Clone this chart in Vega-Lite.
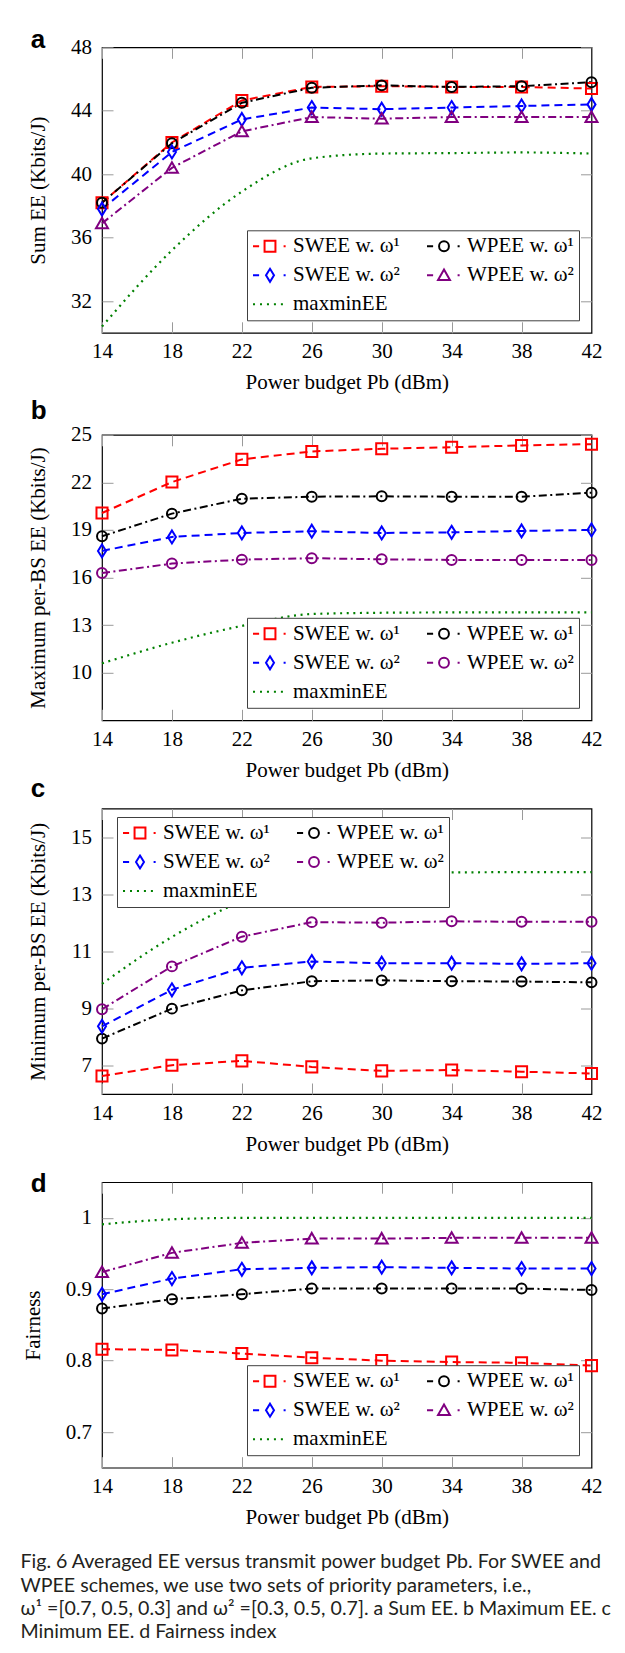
{
  "$schema": "https://vega.github.io/schema/vega-lite/v6.json",
  "autosize": {"type": "none"},
  "padding": {"left": 102, "top": 47.3, "right": 523, "bottom": 1605.7},
  "background": "white",
  "datasets": {
    "a": [
      {"power": 14, "scheme": "SWEE w. ω¹", "value": 38.2}, {"power": 18, "scheme": "SWEE w. ω¹", "value": 42.0}, {"power": 22, "scheme": "SWEE w. ω¹", "value": 44.65}, {"power": 26, "scheme": "SWEE w. ω¹", "value": 45.5}, {"power": 30, "scheme": "SWEE w. ω¹", "value": 45.55}, {"power": 34, "scheme": "SWEE w. ω¹", "value": 45.5}, {"power": 38, "scheme": "SWEE w. ω¹", "value": 45.5}, {"power": 42, "scheme": "SWEE w. ω¹", "value": 45.4},
      {"power": 14, "scheme": "WPEE w. ω¹", "value": 38.2}, {"power": 18, "scheme": "WPEE w. ω¹", "value": 41.95}, {"power": 22, "scheme": "WPEE w. ω¹", "value": 44.5}, {"power": 26, "scheme": "WPEE w. ω¹", "value": 45.45}, {"power": 30, "scheme": "WPEE w. ω¹", "value": 45.6}, {"power": 34, "scheme": "WPEE w. ω¹", "value": 45.5}, {"power": 38, "scheme": "WPEE w. ω¹", "value": 45.55}, {"power": 42, "scheme": "WPEE w. ω¹", "value": 45.8},
      {"power": 14, "scheme": "SWEE w. ω²", "value": 37.8}, {"power": 18, "scheme": "SWEE w. ω²", "value": 41.4}, {"power": 22, "scheme": "SWEE w. ω²", "value": 43.45}, {"power": 26, "scheme": "SWEE w. ω²", "value": 44.2}, {"power": 30, "scheme": "SWEE w. ω²", "value": 44.1}, {"power": 34, "scheme": "SWEE w. ω²", "value": 44.2}, {"power": 38, "scheme": "SWEE w. ω²", "value": 44.3}, {"power": 42, "scheme": "SWEE w. ω²", "value": 44.4},
      {"power": 14, "scheme": "WPEE w. ω²", "value": 36.9}, {"power": 18, "scheme": "WPEE w. ω²", "value": 40.4}, {"power": 22, "scheme": "WPEE w. ω²", "value": 42.7}, {"power": 26, "scheme": "WPEE w. ω²", "value": 43.6}, {"power": 30, "scheme": "WPEE w. ω²", "value": 43.5}, {"power": 34, "scheme": "WPEE w. ω²", "value": 43.6}, {"power": 38, "scheme": "WPEE w. ω²", "value": 43.6}, {"power": 42, "scheme": "WPEE w. ω²", "value": 43.6},
      {"power": 14, "scheme": "maxminEE", "value": 30.4}, {"power": 18, "scheme": "maxminEE", "value": 35.2}, {"power": 22, "scheme": "maxminEE", "value": 38.9}, {"power": 26, "scheme": "maxminEE", "value": 41.0}, {"power": 30, "scheme": "maxminEE", "value": 41.3}, {"power": 34, "scheme": "maxminEE", "value": 41.33}, {"power": 38, "scheme": "maxminEE", "value": 41.37}, {"power": 42, "scheme": "maxminEE", "value": 41.3}
    ],
    "b": [
      {"power": 14, "scheme": "SWEE w. ω¹", "value": 20.07}, {"power": 18, "scheme": "SWEE w. ω¹", "value": 22.02}, {"power": 22, "scheme": "SWEE w. ω¹", "value": 23.45}, {"power": 26, "scheme": "SWEE w. ω¹", "value": 23.95}, {"power": 30, "scheme": "SWEE w. ω¹", "value": 24.12}, {"power": 34, "scheme": "SWEE w. ω¹", "value": 24.22}, {"power": 38, "scheme": "SWEE w. ω¹", "value": 24.33}, {"power": 42, "scheme": "SWEE w. ω¹", "value": 24.41},
      {"power": 14, "scheme": "WPEE w. ω¹", "value": 18.6}, {"power": 18, "scheme": "WPEE w. ω¹", "value": 20.03}, {"power": 22, "scheme": "WPEE w. ω¹", "value": 20.97}, {"power": 26, "scheme": "WPEE w. ω¹", "value": 21.1}, {"power": 30, "scheme": "WPEE w. ω¹", "value": 21.12}, {"power": 34, "scheme": "WPEE w. ω¹", "value": 21.1}, {"power": 38, "scheme": "WPEE w. ω¹", "value": 21.1}, {"power": 42, "scheme": "WPEE w. ω¹", "value": 21.35},
      {"power": 14, "scheme": "SWEE w. ω²", "value": 17.68}, {"power": 18, "scheme": "SWEE w. ω²", "value": 18.56}, {"power": 22, "scheme": "SWEE w. ω²", "value": 18.81}, {"power": 26, "scheme": "SWEE w. ω²", "value": 18.92}, {"power": 30, "scheme": "SWEE w. ω²", "value": 18.81}, {"power": 34, "scheme": "SWEE w. ω²", "value": 18.85}, {"power": 38, "scheme": "SWEE w. ω²", "value": 18.94}, {"power": 42, "scheme": "SWEE w. ω²", "value": 19.0},
      {"power": 14, "scheme": "WPEE w. ω²", "value": 16.29}, {"power": 18, "scheme": "WPEE w. ω²", "value": 16.88}, {"power": 22, "scheme": "WPEE w. ω²", "value": 17.13}, {"power": 26, "scheme": "WPEE w. ω²", "value": 17.22}, {"power": 30, "scheme": "WPEE w. ω²", "value": 17.15}, {"power": 34, "scheme": "WPEE w. ω²", "value": 17.11}, {"power": 38, "scheme": "WPEE w. ω²", "value": 17.11}, {"power": 42, "scheme": "WPEE w. ω²", "value": 17.11},
      {"power": 14, "scheme": "maxminEE", "value": 10.59}, {"power": 18, "scheme": "maxminEE", "value": 11.89}, {"power": 22, "scheme": "maxminEE", "value": 12.95}, {"power": 26, "scheme": "maxminEE", "value": 13.7}, {"power": 30, "scheme": "maxminEE", "value": 13.78}, {"power": 34, "scheme": "maxminEE", "value": 13.8}, {"power": 38, "scheme": "maxminEE", "value": 13.8}, {"power": 42, "scheme": "maxminEE", "value": 13.8}
    ],
    "c": [
      {"power": 14, "scheme": "SWEE w. ω¹", "value": 6.63}, {"power": 18, "scheme": "SWEE w. ω¹", "value": 7.01}, {"power": 22, "scheme": "SWEE w. ω¹", "value": 7.16}, {"power": 26, "scheme": "SWEE w. ω¹", "value": 6.95}, {"power": 30, "scheme": "SWEE w. ω¹", "value": 6.81}, {"power": 34, "scheme": "SWEE w. ω¹", "value": 6.84}, {"power": 38, "scheme": "SWEE w. ω¹", "value": 6.78}, {"power": 42, "scheme": "SWEE w. ω¹", "value": 6.72},
      {"power": 14, "scheme": "WPEE w. ω¹", "value": 7.94}, {"power": 18, "scheme": "WPEE w. ω¹", "value": 8.99}, {"power": 22, "scheme": "WPEE w. ω¹", "value": 9.63}, {"power": 26, "scheme": "WPEE w. ω¹", "value": 9.95}, {"power": 30, "scheme": "WPEE w. ω¹", "value": 9.98}, {"power": 34, "scheme": "WPEE w. ω¹", "value": 9.95}, {"power": 38, "scheme": "WPEE w. ω¹", "value": 9.94}, {"power": 42, "scheme": "WPEE w. ω¹", "value": 9.91},
      {"power": 14, "scheme": "SWEE w. ω²", "value": 8.37}, {"power": 18, "scheme": "SWEE w. ω²", "value": 9.65}, {"power": 22, "scheme": "SWEE w. ω²", "value": 10.42}, {"power": 26, "scheme": "SWEE w. ω²", "value": 10.64}, {"power": 30, "scheme": "SWEE w. ω²", "value": 10.58}, {"power": 34, "scheme": "SWEE w. ω²", "value": 10.58}, {"power": 38, "scheme": "SWEE w. ω²", "value": 10.56}, {"power": 42, "scheme": "SWEE w. ω²", "value": 10.58},
      {"power": 14, "scheme": "WPEE w. ω²", "value": 8.97}, {"power": 18, "scheme": "WPEE w. ω²", "value": 10.47}, {"power": 22, "scheme": "WPEE w. ω²", "value": 11.51}, {"power": 26, "scheme": "WPEE w. ω²", "value": 12.02}, {"power": 30, "scheme": "WPEE w. ω²", "value": 12.0}, {"power": 34, "scheme": "WPEE w. ω²", "value": 12.05}, {"power": 38, "scheme": "WPEE w. ω²", "value": 12.03}, {"power": 42, "scheme": "WPEE w. ω²", "value": 12.03},
      {"power": 14, "scheme": "maxminEE", "value": 9.86}, {"power": 18, "scheme": "maxminEE", "value": 11.5}, {"power": 22, "scheme": "maxminEE", "value": 12.75}, {"power": 26, "scheme": "maxminEE", "value": 13.5}, {"power": 30, "scheme": "maxminEE", "value": 13.7}, {"power": 34, "scheme": "maxminEE", "value": 13.76}, {"power": 38, "scheme": "maxminEE", "value": 13.77}, {"power": 42, "scheme": "maxminEE", "value": 13.77}
    ],
    "d": [
      {"power": 14, "scheme": "SWEE w. ω¹", "value": 0.816}, {"power": 18, "scheme": "SWEE w. ω¹", "value": 0.815}, {"power": 22, "scheme": "SWEE w. ω¹", "value": 0.81}, {"power": 26, "scheme": "SWEE w. ω¹", "value": 0.804}, {"power": 30, "scheme": "SWEE w. ω¹", "value": 0.8}, {"power": 34, "scheme": "SWEE w. ω¹", "value": 0.798}, {"power": 38, "scheme": "SWEE w. ω¹", "value": 0.797}, {"power": 42, "scheme": "SWEE w. ω¹", "value": 0.793},
      {"power": 14, "scheme": "WPEE w. ω¹", "value": 0.873}, {"power": 18, "scheme": "WPEE w. ω¹", "value": 0.886}, {"power": 22, "scheme": "WPEE w. ω¹", "value": 0.893}, {"power": 26, "scheme": "WPEE w. ω¹", "value": 0.901}, {"power": 30, "scheme": "WPEE w. ω¹", "value": 0.901}, {"power": 34, "scheme": "WPEE w. ω¹", "value": 0.901}, {"power": 38, "scheme": "WPEE w. ω¹", "value": 0.901}, {"power": 42, "scheme": "WPEE w. ω¹", "value": 0.899},
      {"power": 14, "scheme": "SWEE w. ω²", "value": 0.893}, {"power": 18, "scheme": "SWEE w. ω²", "value": 0.915}, {"power": 22, "scheme": "SWEE w. ω²", "value": 0.928}, {"power": 26, "scheme": "SWEE w. ω²", "value": 0.93}, {"power": 30, "scheme": "SWEE w. ω²", "value": 0.931}, {"power": 34, "scheme": "SWEE w. ω²", "value": 0.93}, {"power": 38, "scheme": "SWEE w. ω²", "value": 0.929}, {"power": 42, "scheme": "SWEE w. ω²", "value": 0.929},
      {"power": 14, "scheme": "WPEE w. ω²", "value": 0.924}, {"power": 18, "scheme": "WPEE w. ω²", "value": 0.951}, {"power": 22, "scheme": "WPEE w. ω²", "value": 0.965}, {"power": 26, "scheme": "WPEE w. ω²", "value": 0.971}, {"power": 30, "scheme": "WPEE w. ω²", "value": 0.971}, {"power": 34, "scheme": "WPEE w. ω²", "value": 0.972}, {"power": 38, "scheme": "WPEE w. ω²", "value": 0.972}, {"power": 42, "scheme": "WPEE w. ω²", "value": 0.972},
      {"power": 14, "scheme": "maxminEE", "value": 0.991}, {"power": 18, "scheme": "maxminEE", "value": 0.998}, {"power": 22, "scheme": "maxminEE", "value": 1.0}, {"power": 26, "scheme": "maxminEE", "value": 1.0}, {"power": 30, "scheme": "maxminEE", "value": 1.0}, {"power": 34, "scheme": "maxminEE", "value": 1.0}, {"power": 38, "scheme": "maxminEE", "value": 1.0}, {"power": 42, "scheme": "maxminEE", "value": 1.0}
    ]
  },
  "bounds": "flush",
  "spacing": 101.5,
  "resolve": {
    "scale": {"x": "independent", "y": "independent", "color": "independent", "shape": "independent", "strokeDash": "independent"},
    "legend": {"color": "independent", "shape": "independent"}
  },
  "title": {
    "text": ["Fig. 6 Averaged EE versus transmit power budget Pb. For SWEE and", "WPEE schemes, we use two sets of priority parameters, i.e.,", "ω¹ =[0.7, 0.5, 0.3] and ω² =[0.3, 0.5, 0.7]. a Sum EE. b Maximum EE. c", "Minimum EE. d Fairness index"],
    "orient": "bottom", "anchor": "start", "frame": "group", "dx": -81.5, "offset": 40,
    "baseline": "alphabetic", "font": "Lato", "fontSize": 19.6, "fontWeight": "normal", "lineHeight": 23.3, "color": "#231f20"
  },
  "vconcat": [
    {
      "width": 489.5, "height": 285.5,
      "title": {"text": "a", "anchor": "start", "frame": "group", "dx": -71.3, "offset": -38, "baseline": "alphabetic", "font": "Liberation Sans", "fontSize": 26, "fontWeight": "bold", "color": "black"},
      "data": {"name": "a"},
      "resolve": {"scale": {"shape": "independent", "color": "independent"}, "axis": {"x": "independent", "y": "independent"}},
      "layer": [
        {
          "transform": [{"filter": "datum.scheme !== 'maxminEE'"}],
          "mark": {"type": "line", "strokeWidth": 2},
          "encoding": {
            "x": {"field": "power", "type": "quantitative", "scale": {"domain": [14, 42], "nice": false, "zero": false}, "axis": {"orient": "bottom", "values": [14, 18, 22, 26, 30, 34, 38, 42], "title": "Power budget Pb (dBm)", "tickSize": -11, "labelPadding": 19, "titlePadding": 10, "format": "d"}},
            "y": {"field": "value", "type": "quantitative", "scale": {"domain": [30, 48], "nice": false, "zero": false}, "axis": {"orient": "left", "values": [32, 36, 40, 44, 48], "title": "Sum EE (Kbits/J)", "tickSize": -11, "labelPadding": 21.5, "titlePadding": 22, "format": "d"}},
            "color": {"field": "scheme", "type": "nominal", "scale": {"domain": ["SWEE w. ω¹", "WPEE w. ω¹", "SWEE w. ω²", "WPEE w. ω²", "maxminEE"], "range": ["#ff0000", "#000000", "#0000ff", "#800080", "#008000"]}, "legend": null},
            "strokeDash": {"field": "scheme", "type": "nominal", "scale": {"domain": ["SWEE w. ω¹", "WPEE w. ω¹", "SWEE w. ω²", "WPEE w. ω²", "maxminEE"], "range": [[8, 5], [8, 3.5, 2, 3.5], [8, 5], [8, 3.5, 2, 3.5], [2, 4.6]]}, "legend": null}
          }
        },
        {
          "transform": [{"filter": "datum.scheme === 'maxminEE'"}],
          "mark": {"type": "line", "strokeWidth": 2.2, "interpolate": "monotone", "color": "#008000", "strokeDash": [2, 4.6]},
          "encoding": {
            "x": {"field": "power", "type": "quantitative", "axis": null},
            "y": {"field": "value", "type": "quantitative", "axis": null}
          }
        },
        {
          "transform": [{"filter": "datum.scheme !== 'maxminEE'"}],
          "mark": {"type": "point", "filled": false, "strokeWidth": 2, "size": 144, "opacity": 1},
          "encoding": {
            "x": {"field": "power", "type": "quantitative", "axis": {"orient": "top", "values": [14, 18, 22, 26, 30, 34, 38, 42], "labels": false, "title": null, "tickSize": -11}},
            "y": {"field": "value", "type": "quantitative", "axis": {"orient": "right", "values": [32, 36, 40, 44, 48], "labels": false, "title": null, "tickSize": -11}},
            "color": {"field": "scheme", "type": "nominal", "scale": {"domain": ["SWEE w. ω¹", "WPEE w. ω¹", "SWEE w. ω²", "WPEE w. ω²", "maxminEE"], "range": ["#ff0000", "#000000", "#0000ff", "#800080", "#008000"]}, "legend": null},
            "shape": {"field": "scheme", "type": "nominal", "scale": {"domain": ["SWEE w. ω¹", "WPEE w. ω¹", "SWEE w. ω²", "WPEE w. ω²"], "range": ["M-0.92,-0.92H0.92V0.92H-0.92Z", "M0.83,0A0.83,0.83,0,1,1,-0.83,0A0.83,0.83,0,1,1,0.83,0Z", "M0,-1.08L0.67,0L0,1.08L-0.67,0Z", "M0,-0.95L1,0.8L-1,0.8Z"]}, "legend": null}
          }
        },
        {
          "data": {"values": []},
          "mark": {"type": "point", "filled": false, "strokeWidth": 2, "opacity": 1},
          "encoding": {
            "color": {"field": "scheme", "type": "nominal", "scale": {"domain": ["SWEE w. ω¹", "WPEE w. ω¹", "SWEE w. ω²", "WPEE w. ω²", "maxminEE"], "range": ["#ff0000", "#000000", "#0000ff", "#800080", "#008000"]},
              "legend": {"title": null, "orient": "bottom-right", "direction": "horizontal", "offset": 13, "columns": 2, "symbolSize": 1156, "symbolStrokeWidth": 2, "clipHeight": 22, "rowPadding": 7, "columnPadding": 26, "labelOffset": 5, "padding": 5, "labelFont": "Liberation Serif", "labelFontSize": 21, "labelColor": "black", "labelLimit": 300, "labelExpr": "datum.label + '\u2002'", "strokeColor": "#404040", "fillColor": "white"}},
            "shape": {"field": "scheme", "type": "nominal", "scale": {"domain": ["SWEE w. ω¹", "WPEE w. ω¹", "SWEE w. ω²", "WPEE w. ω²", "maxminEE"], "range": ["M-1,0H-0.64M0.8,0H0.92M-0.32,-0.32H0.32V0.32H-0.32Z", "M-1,0H-0.64M0.8,0H0.92M0.29,0A0.29,0.29,0,1,1,-0.29,0A0.29,0.29,0,1,1,0.29,0Z", "M-1,0H-0.64M0.8,0H0.92M0,-0.38L0.235,0L0,0.38L-0.235,0Z", "M-1,0H-0.64M0.8,0H0.92M0,-0.335L0.35,0.28L-0.35,0.28Z", "M-1,0H-0.88M-0.59,0H-0.47M-0.18,0H-0.06M0.23,0H0.35M0.64,0H0.76"]},
              "legend": {"title": null, "orient": "bottom-right", "direction": "horizontal", "offset": 13, "columns": 2, "symbolSize": 1156, "symbolStrokeWidth": 2, "clipHeight": 22, "rowPadding": 7, "columnPadding": 26, "labelOffset": 5, "padding": 5, "labelFont": "Liberation Serif", "labelFontSize": 21, "labelColor": "black", "labelLimit": 300, "labelExpr": "datum.label + '\u2002'", "strokeColor": "#404040", "fillColor": "white"}}
          }
        }
      ]
    },
    {
      "bounds": "flush",
      "spacing": 87.7,
      "resolve": {
        "scale": {"x": "independent", "y": "independent", "color": "independent", "shape": "independent", "strokeDash": "independent"},
        "legend": {"color": "independent", "shape": "independent"}
      },
      "vconcat": [
        {
          "width": 489.5, "height": 285.5,
          "title": {"text": "b", "anchor": "start", "frame": "group", "dx": -71.3, "offset": -21, "baseline": "alphabetic", "font": "Liberation Sans", "fontSize": 26, "fontWeight": "bold", "color": "black"},
          "data": {"name": "b"},
          "resolve": {"scale": {"shape": "independent", "color": "independent"}, "axis": {"x": "independent", "y": "independent"}},
          "layer": [
            {
              "transform": [{"filter": "datum.scheme !== 'maxminEE'"}],
              "mark": {"type": "line", "strokeWidth": 2},
              "encoding": {
                "x": {"field": "power", "type": "quantitative", "scale": {"domain": [14, 42], "nice": false, "zero": false}, "axis": {"orient": "bottom", "values": [14, 18, 22, 26, 30, 34, 38, 42], "title": "Power budget Pb (dBm)", "tickSize": -11, "labelPadding": 19, "titlePadding": 10, "format": "d"}},
                "y": {"field": "value", "type": "quantitative", "scale": {"domain": [7, 25], "nice": false, "zero": false}, "axis": {"orient": "left", "values": [10, 13, 16, 19, 22, 25], "title": "Maximum per-BS EE (Kbits/J)", "tickSize": -11, "labelPadding": 21.5, "titlePadding": 22, "format": "d"}},
                "color": {"field": "scheme", "type": "nominal", "scale": {"domain": ["SWEE w. ω¹", "WPEE w. ω¹", "SWEE w. ω²", "WPEE w. ω²", "maxminEE"], "range": ["#ff0000", "#000000", "#0000ff", "#800080", "#008000"]}, "legend": null},
                "strokeDash": {"field": "scheme", "type": "nominal", "scale": {"domain": ["SWEE w. ω¹", "WPEE w. ω¹", "SWEE w. ω²", "WPEE w. ω²", "maxminEE"], "range": [[8, 5], [8, 3.5, 2, 3.5], [8, 5], [8, 3.5, 2, 3.5], [2, 4.6]]}, "legend": null}
              }
            },
            {
              "transform": [{"filter": "datum.scheme === 'maxminEE'"}],
              "mark": {"type": "line", "strokeWidth": 2.2, "interpolate": "monotone", "color": "#008000", "strokeDash": [2, 4.6]},
              "encoding": {
                "x": {"field": "power", "type": "quantitative", "axis": null},
                "y": {"field": "value", "type": "quantitative", "axis": null}
              }
            },
            {
              "transform": [{"filter": "datum.scheme !== 'maxminEE'"}],
              "mark": {"type": "point", "filled": false, "strokeWidth": 2, "size": 144, "opacity": 1},
              "encoding": {
                "x": {"field": "power", "type": "quantitative", "axis": {"orient": "top", "values": [14, 18, 22, 26, 30, 34, 38, 42], "labels": false, "title": null, "tickSize": -11}},
                "y": {"field": "value", "type": "quantitative", "axis": {"orient": "right", "values": [10, 13, 16, 19, 22, 25], "labels": false, "title": null, "tickSize": -11}},
                "color": {"field": "scheme", "type": "nominal", "scale": {"domain": ["SWEE w. ω¹", "WPEE w. ω¹", "SWEE w. ω²", "WPEE w. ω²", "maxminEE"], "range": ["#ff0000", "#000000", "#0000ff", "#800080", "#008000"]}, "legend": null},
                "shape": {"field": "scheme", "type": "nominal", "scale": {"domain": ["SWEE w. ω¹", "WPEE w. ω¹", "SWEE w. ω²", "WPEE w. ω²"], "range": ["M-0.92,-0.92H0.92V0.92H-0.92Z", "M0.83,0A0.83,0.83,0,1,1,-0.83,0A0.83,0.83,0,1,1,0.83,0Z", "M0,-1.08L0.67,0L0,1.08L-0.67,0Z", "M0.83,0A0.83,0.83,0,1,1,-0.83,0A0.83,0.83,0,1,1,0.83,0Z"]}, "legend": null}
              }
            },
            {
              "data": {"values": []},
              "mark": {"type": "point", "filled": false, "strokeWidth": 2, "opacity": 1},
              "encoding": {
                "color": {"field": "scheme", "type": "nominal", "scale": {"domain": ["SWEE w. ω¹", "WPEE w. ω¹", "SWEE w. ω²", "WPEE w. ω²", "maxminEE"], "range": ["#ff0000", "#000000", "#0000ff", "#800080", "#008000"]},
                  "legend": {"title": null, "orient": "bottom-right", "direction": "horizontal", "offset": 13, "columns": 2, "symbolSize": 1156, "symbolStrokeWidth": 2, "clipHeight": 22, "rowPadding": 7, "columnPadding": 26, "labelOffset": 5, "padding": 5, "labelFont": "Liberation Serif", "labelFontSize": 21, "labelColor": "black", "labelLimit": 300, "labelExpr": "datum.label + '\u2002'", "strokeColor": "#404040", "fillColor": "white"}},
                "shape": {"field": "scheme", "type": "nominal", "scale": {"domain": ["SWEE w. ω¹", "WPEE w. ω¹", "SWEE w. ω²", "WPEE w. ω²", "maxminEE"], "range": ["M-1,0H-0.64M0.8,0H0.92M-0.32,-0.32H0.32V0.32H-0.32Z", "M-1,0H-0.64M0.8,0H0.92M0.29,0A0.29,0.29,0,1,1,-0.29,0A0.29,0.29,0,1,1,0.29,0Z", "M-1,0H-0.64M0.8,0H0.92M0,-0.38L0.235,0L0,0.38L-0.235,0Z", "M-1,0H-0.64M0.8,0H0.92M0.29,0A0.29,0.29,0,1,1,-0.29,0A0.29,0.29,0,1,1,0.29,0Z", "M-1,0H-0.88M-0.59,0H-0.47M-0.18,0H-0.06M0.23,0H0.35M0.64,0H0.76"]},
                  "legend": {"title": null, "orient": "bottom-right", "direction": "horizontal", "offset": 13, "columns": 2, "symbolSize": 1156, "symbolStrokeWidth": 2, "clipHeight": 22, "rowPadding": 7, "columnPadding": 26, "labelOffset": 5, "padding": 5, "labelFont": "Liberation Serif", "labelFontSize": 21, "labelColor": "black", "labelLimit": 300, "labelExpr": "datum.label + '\u2002'", "strokeColor": "#404040", "fillColor": "white"}}
              }
            }
          ]
        },
        {
          "width": 489.5, "height": 285.5,
          "title": {"text": "c", "anchor": "start", "frame": "group", "dx": -71.3, "offset": -15, "baseline": "alphabetic", "font": "Liberation Sans", "fontSize": 26, "fontWeight": "bold", "color": "black"},
          "data": {"name": "c"},
          "resolve": {"scale": {"shape": "independent", "color": "independent"}, "axis": {"x": "independent", "y": "independent"}},
          "layer": [
            {
              "transform": [{"filter": "datum.scheme !== 'maxminEE'"}],
              "mark": {"type": "line", "strokeWidth": 2},
              "encoding": {
                "x": {"field": "power", "type": "quantitative", "scale": {"domain": [14, 42], "nice": false, "zero": false}, "axis": {"orient": "bottom", "values": [14, 18, 22, 26, 30, 34, 38, 42], "title": "Power budget Pb (dBm)", "tickSize": -11, "labelPadding": 19, "titlePadding": 10, "format": "d"}},
                "y": {"field": "value", "type": "quantitative", "scale": {"domain": [6, 16], "nice": false, "zero": false}, "axis": {"orient": "left", "values": [7, 9, 11, 13, 15], "title": "Minimum per-BS EE (Kbits/J)", "tickSize": -11, "labelPadding": 21.5, "titlePadding": 22, "format": "d"}},
                "color": {"field": "scheme", "type": "nominal", "scale": {"domain": ["SWEE w. ω¹", "WPEE w. ω¹", "SWEE w. ω²", "WPEE w. ω²", "maxminEE"], "range": ["#ff0000", "#000000", "#0000ff", "#800080", "#008000"]}, "legend": null},
                "strokeDash": {"field": "scheme", "type": "nominal", "scale": {"domain": ["SWEE w. ω¹", "WPEE w. ω¹", "SWEE w. ω²", "WPEE w. ω²", "maxminEE"], "range": [[8, 5], [8, 3.5, 2, 3.5], [8, 5], [8, 3.5, 2, 3.5], [2, 4.6]]}, "legend": null}
              }
            },
            {
              "transform": [{"filter": "datum.scheme === 'maxminEE'"}],
              "mark": {"type": "line", "strokeWidth": 2.2, "interpolate": "monotone", "color": "#008000", "strokeDash": [2, 4.6]},
              "encoding": {
                "x": {"field": "power", "type": "quantitative", "axis": null},
                "y": {"field": "value", "type": "quantitative", "axis": null}
              }
            },
            {
              "transform": [{"filter": "datum.scheme !== 'maxminEE'"}],
              "mark": {"type": "point", "filled": false, "strokeWidth": 2, "size": 144, "opacity": 1},
              "encoding": {
                "x": {"field": "power", "type": "quantitative", "axis": {"orient": "top", "values": [14, 18, 22, 26, 30, 34, 38, 42], "labels": false, "title": null, "tickSize": -11}},
                "y": {"field": "value", "type": "quantitative", "axis": {"orient": "right", "values": [7, 9, 11, 13, 15], "labels": false, "title": null, "tickSize": -11}},
                "color": {"field": "scheme", "type": "nominal", "scale": {"domain": ["SWEE w. ω¹", "WPEE w. ω¹", "SWEE w. ω²", "WPEE w. ω²", "maxminEE"], "range": ["#ff0000", "#000000", "#0000ff", "#800080", "#008000"]}, "legend": null},
                "shape": {"field": "scheme", "type": "nominal", "scale": {"domain": ["SWEE w. ω¹", "WPEE w. ω¹", "SWEE w. ω²", "WPEE w. ω²"], "range": ["M-0.92,-0.92H0.92V0.92H-0.92Z", "M0.83,0A0.83,0.83,0,1,1,-0.83,0A0.83,0.83,0,1,1,0.83,0Z", "M0,-1.08L0.67,0L0,1.08L-0.67,0Z", "M0.83,0A0.83,0.83,0,1,1,-0.83,0A0.83,0.83,0,1,1,0.83,0Z"]}, "legend": null}
              }
            },
            {
              "data": {"values": []},
              "mark": {"type": "point", "filled": false, "strokeWidth": 2, "opacity": 1},
              "encoding": {
                "color": {"field": "scheme", "type": "nominal", "scale": {"domain": ["SWEE w. ω¹", "WPEE w. ω¹", "SWEE w. ω²", "WPEE w. ω²", "maxminEE"], "range": ["#ff0000", "#000000", "#0000ff", "#800080", "#008000"]},
                  "legend": {"title": null, "orient": "none", "legendX": 15, "legendY": 8.5, "direction": "horizontal", "columns": 2, "symbolSize": 1156, "symbolStrokeWidth": 2, "clipHeight": 22, "rowPadding": 7, "columnPadding": 26, "labelOffset": 5, "padding": 5, "labelFont": "Liberation Serif", "labelFontSize": 21, "labelColor": "black", "labelLimit": 300, "labelExpr": "datum.label + '\u2002'", "strokeColor": "#404040", "fillColor": "white"}},
                "shape": {"field": "scheme", "type": "nominal", "scale": {"domain": ["SWEE w. ω¹", "WPEE w. ω¹", "SWEE w. ω²", "WPEE w. ω²", "maxminEE"], "range": ["M-1,0H-0.64M0.8,0H0.92M-0.32,-0.32H0.32V0.32H-0.32Z", "M-1,0H-0.64M0.8,0H0.92M0.29,0A0.29,0.29,0,1,1,-0.29,0A0.29,0.29,0,1,1,0.29,0Z", "M-1,0H-0.64M0.8,0H0.92M0,-0.38L0.235,0L0,0.38L-0.235,0Z", "M-1,0H-0.64M0.8,0H0.92M0.29,0A0.29,0.29,0,1,1,-0.29,0A0.29,0.29,0,1,1,0.29,0Z", "M-1,0H-0.88M-0.59,0H-0.47M-0.18,0H-0.06M0.23,0H0.35M0.64,0H0.76"]},
                  "legend": {"title": null, "orient": "none", "legendX": 15, "legendY": 8.5, "direction": "horizontal", "columns": 2, "symbolSize": 1156, "symbolStrokeWidth": 2, "clipHeight": 22, "rowPadding": 7, "columnPadding": 26, "labelOffset": 5, "padding": 5, "labelFont": "Liberation Serif", "labelFontSize": 21, "labelColor": "black", "labelLimit": 300, "labelExpr": "datum.label + '\u2002'", "strokeColor": "#404040", "fillColor": "white"}}
              }
            }
          ]
        },
        {
          "width": 489.5, "height": 285.5,
          "title": {"text": "d", "anchor": "start", "frame": "group", "dx": -71.3, "offset": -36.2, "baseline": "alphabetic", "font": "Liberation Sans", "fontSize": 26, "fontWeight": "bold", "color": "black"},
          "data": {"name": "d"},
          "resolve": {"scale": {"shape": "independent", "color": "independent"}, "axis": {"x": "independent", "y": "independent"}},
          "layer": [
            {
              "transform": [{"filter": "datum.scheme !== 'maxminEE'"}],
              "mark": {"type": "line", "strokeWidth": 2},
              "encoding": {
                "x": {"field": "power", "type": "quantitative", "scale": {"domain": [14, 42], "nice": false, "zero": false}, "axis": {"orient": "bottom", "values": [14, 18, 22, 26, 30, 34, 38, 42], "title": "Power budget Pb (dBm)", "tickSize": -11, "labelPadding": 19, "titlePadding": 10, "format": "d"}},
                "y": {"field": "value", "type": "quantitative", "scale": {"domain": [0.65, 1.05], "nice": false, "zero": false}, "axis": {"orient": "left", "values": [0.7, 0.8, 0.9, 1], "title": "Fairness", "tickSize": -11, "labelPadding": 21.5, "titlePadding": 22, "format": ".1~f"}},
                "color": {"field": "scheme", "type": "nominal", "scale": {"domain": ["SWEE w. ω¹", "WPEE w. ω¹", "SWEE w. ω²", "WPEE w. ω²", "maxminEE"], "range": ["#ff0000", "#000000", "#0000ff", "#800080", "#008000"]}, "legend": null},
                "strokeDash": {"field": "scheme", "type": "nominal", "scale": {"domain": ["SWEE w. ω¹", "WPEE w. ω¹", "SWEE w. ω²", "WPEE w. ω²", "maxminEE"], "range": [[8, 5], [8, 3.5, 2, 3.5], [8, 5], [8, 3.5, 2, 3.5], [2, 4.6]]}, "legend": null}
              }
            },
            {
              "transform": [{"filter": "datum.scheme === 'maxminEE'"}],
              "mark": {"type": "line", "strokeWidth": 2.2, "interpolate": "monotone", "color": "#008000", "strokeDash": [2, 4.6]},
              "encoding": {
                "x": {"field": "power", "type": "quantitative", "axis": null},
                "y": {"field": "value", "type": "quantitative", "axis": null}
              }
            },
            {
              "transform": [{"filter": "datum.scheme !== 'maxminEE'"}],
              "mark": {"type": "point", "filled": false, "strokeWidth": 2, "size": 144, "opacity": 1},
              "encoding": {
                "x": {"field": "power", "type": "quantitative", "axis": {"orient": "top", "values": [14, 18, 22, 26, 30, 34, 38, 42], "labels": false, "title": null, "tickSize": -11}},
                "y": {"field": "value", "type": "quantitative", "axis": {"orient": "right", "values": [0.7, 0.8, 0.9, 1], "labels": false, "title": null, "tickSize": -11}},
                "color": {"field": "scheme", "type": "nominal", "scale": {"domain": ["SWEE w. ω¹", "WPEE w. ω¹", "SWEE w. ω²", "WPEE w. ω²", "maxminEE"], "range": ["#ff0000", "#000000", "#0000ff", "#800080", "#008000"]}, "legend": null},
                "shape": {"field": "scheme", "type": "nominal", "scale": {"domain": ["SWEE w. ω¹", "WPEE w. ω¹", "SWEE w. ω²", "WPEE w. ω²"], "range": ["M-0.92,-0.92H0.92V0.92H-0.92Z", "M0.83,0A0.83,0.83,0,1,1,-0.83,0A0.83,0.83,0,1,1,0.83,0Z", "M0,-1.08L0.67,0L0,1.08L-0.67,0Z", "M0,-0.95L1,0.8L-1,0.8Z"]}, "legend": null}
              }
            },
            {
              "data": {"values": []},
              "mark": {"type": "point", "filled": false, "strokeWidth": 2, "opacity": 1},
              "encoding": {
                "color": {"field": "scheme", "type": "nominal", "scale": {"domain": ["SWEE w. ω¹", "WPEE w. ω¹", "SWEE w. ω²", "WPEE w. ω²", "maxminEE"], "range": ["#ff0000", "#000000", "#0000ff", "#800080", "#008000"]},
                  "legend": {"title": null, "orient": "bottom-right", "direction": "horizontal", "offset": 13, "columns": 2, "symbolSize": 1156, "symbolStrokeWidth": 2, "clipHeight": 22, "rowPadding": 7, "columnPadding": 26, "labelOffset": 5, "padding": 5, "labelFont": "Liberation Serif", "labelFontSize": 21, "labelColor": "black", "labelLimit": 300, "labelExpr": "datum.label + '\u2002'", "strokeColor": "#404040", "fillColor": "white"}},
                "shape": {"field": "scheme", "type": "nominal", "scale": {"domain": ["SWEE w. ω¹", "WPEE w. ω¹", "SWEE w. ω²", "WPEE w. ω²", "maxminEE"], "range": ["M-1,0H-0.64M0.8,0H0.92M-0.32,-0.32H0.32V0.32H-0.32Z", "M-1,0H-0.64M0.8,0H0.92M0.29,0A0.29,0.29,0,1,1,-0.29,0A0.29,0.29,0,1,1,0.29,0Z", "M-1,0H-0.64M0.8,0H0.92M0,-0.38L0.235,0L0,0.38L-0.235,0Z", "M-1,0H-0.64M0.8,0H0.92M0,-0.335L0.35,0.28L-0.35,0.28Z", "M-1,0H-0.88M-0.59,0H-0.47M-0.18,0H-0.06M0.23,0H0.35M0.64,0H0.76"]},
                  "legend": {"title": null, "orient": "bottom-right", "direction": "horizontal", "offset": 13, "columns": 2, "symbolSize": 1156, "symbolStrokeWidth": 2, "clipHeight": 22, "rowPadding": 7, "columnPadding": 26, "labelOffset": 5, "padding": 5, "labelFont": "Liberation Serif", "labelFontSize": 21, "labelColor": "black", "labelLimit": 300, "labelExpr": "datum.label + '\u2002'", "strokeColor": "#404040", "fillColor": "white"}}
              }
            }
          ]
        }
      ]
    }
  ],
  "config": {
    "view": {"stroke": "black", "strokeWidth": 1.2},
    "axis": {"domain": false, "grid": false, "ticks": true, "tickColor": "#9a9a9a", "tickWidth": 1, "labelFont": "Liberation Serif", "labelFontSize": 21, "labelColor": "black", "labelFlush": false, "labelOverlap": false, "titleFont": "Liberation Serif", "titleFontSize": 21, "titleFontWeight": "normal", "titleColor": "black"},
    "legend": {"labelFont": "Liberation Serif"}
  }
}
